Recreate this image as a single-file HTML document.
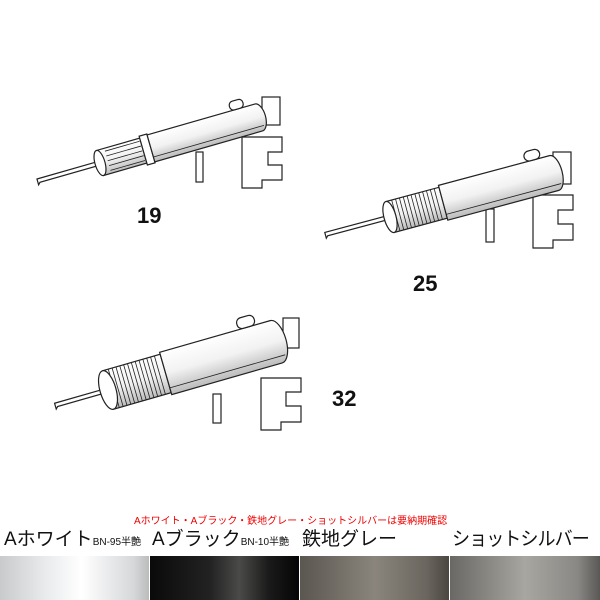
<!DOCTYPE html>
<html><head><meta charset="utf-8"><style>
html,body{margin:0;padding:0;background:#fff;}
body{width:600px;height:600px;position:relative;overflow:hidden;font-family:"Liberation Sans","Noto Sans CJK JP",sans-serif;}
.lbl{position:absolute;font-weight:bold;font-size:22px;color:#111;}
.t{position:absolute;color:#111;white-space:nowrap;}
.sw{position:absolute;top:556px;height:44px;}
</style></head><body>
<svg width="600" height="500" style="position:absolute;left:0;top:0" stroke="#222" stroke-width="1.2" fill="#fff">
<defs>
<linearGradient id="g" x1="0" y1="0" x2="0" y2="1">
<stop offset="0" stop-color="#fff"/><stop offset="0.5" stop-color="#f2f2f2"/><stop offset="1" stop-color="#bbb"/>
</linearGradient>
</defs>
<!-- Tool 19 -->
<rect x="262" y="97" width="18" height="28"/>
<polygon points="242,137 282,137 282,152 268,152 268,165 282,165 282,180 262,180 262,188 242,188"/>
<rect x="196" y="152" width="7" height="30"/>
<g transform="translate(100,163) rotate(-16)">
<polygon points="-65,-2 0,-2 0,2 -63,2 -65,4"/>
<rect x="0" y="-13" width="45" height="26" fill="url(#g)"/>
<ellipse cx="0" cy="0" rx="5" ry="13"/>
<g stroke-width="0.8"><line x1="8" y1="-10" x2="44" y2="-10"/><line x1="8" y1="-5" x2="44" y2="-5"/><line x1="8" y1="0" x2="44" y2="0"/><line x1="8" y1="5" x2="44" y2="5"/><line x1="8" y1="10" x2="44" y2="10"/></g>
<rect x="45" y="-15" width="8" height="30"/>
<path d="M53,-14 L165,-14 A7,14 0 0 1 165,14 L53,14 Z" fill="url(#g)"/>
<line x1="53" y1="9" x2="168" y2="9" stroke-width="0.8"/>
<rect x="140" y="-23" width="14" height="9" rx="4"/>
</g>
<!-- Tool 25 -->
<rect x="553" y="152" width="18" height="32"/>
<polygon points="533,195 573,195 573,210 558,210 558,224 573,224 573,240 553,240 553,248 533,248"/>
<rect x="486" y="209" width="8" height="33"/>
<g transform="translate(390,217) rotate(-15)">
<polygon points="-67,-2 0,-2 0,2 -65,2 -67,4"/>
<rect x="0" y="-16" width="55" height="32" fill="url(#g)"/>
<g stroke-width="0.8"><line x1="6" y1="-16" x2="6" y2="16"/><line x1="10" y1="-16" x2="10" y2="16"/><line x1="14" y1="-16" x2="14" y2="16"/><line x1="18" y1="-16" x2="18" y2="16"/><line x1="22" y1="-16" x2="22" y2="16"/><line x1="26" y1="-16" x2="26" y2="16"/><line x1="30" y1="-16" x2="30" y2="16"/><line x1="34" y1="-16" x2="34" y2="16"/><line x1="38" y1="-16" x2="38" y2="16"/><line x1="42" y1="-16" x2="42" y2="16"/><line x1="46" y1="-16" x2="46" y2="16"/><line x1="50" y1="-16" x2="50" y2="16"/></g>
<ellipse cx="0" cy="0" rx="6" ry="16"/>
<path d="M55,-18 L170,-18 A8,18 0 0 1 170,18 L55,18 Z" fill="url(#g)"/>
<line x1="55" y1="12" x2="174" y2="12" stroke-width="0.8"/>
<rect x="145" y="-28" width="16" height="10" rx="5"/>
</g>
<!-- Tool 32 -->
<rect x="283" y="318" width="16" height="30"/>
<polygon points="261,378 301,378 301,392 286,392 286,406 301,406 301,422 281,422 281,430 261,430"/>
<rect x="213" y="394" width="8" height="29"/>
<g transform="translate(108,390) rotate(-16)">
<polygon points="-55,-2 0,-2 0,2 -53,2 -55,4"/>
<rect x="0" y="-20" width="60" height="40" fill="url(#g)"/>
<g stroke-width="0.8"><line x1="6" y1="-20" x2="6" y2="20"/><line x1="10" y1="-20" x2="10" y2="20"/><line x1="14" y1="-20" x2="14" y2="20"/><line x1="18" y1="-20" x2="18" y2="20"/><line x1="22" y1="-20" x2="22" y2="20"/><line x1="26" y1="-20" x2="26" y2="20"/><line x1="30" y1="-20" x2="30" y2="20"/><line x1="34" y1="-20" x2="34" y2="20"/><line x1="38" y1="-20" x2="38" y2="20"/><line x1="42" y1="-20" x2="42" y2="20"/><line x1="46" y1="-20" x2="46" y2="20"/><line x1="50" y1="-20" x2="50" y2="20"/><line x1="54" y1="-20" x2="54" y2="20"/></g>
<ellipse cx="0" cy="0" rx="8" ry="20"/>
<path d="M60,-22 L175,-22 A10,22 0 0 1 175,22 L60,22 Z" fill="url(#g)"/>
<line x1="60" y1="15" x2="180" y2="15" stroke-width="0.8"/>
<rect x="142" y="-33" width="18" height="11" rx="5"/>
</g>
</svg>
<div class="lbl" style="left:137px;top:203px">19</div>
<div class="lbl" style="left:413px;top:271px">25</div>
<div class="lbl" style="left:332px;top:386px">32</div>
<div class="t" style="left:134px;top:512px;font-size:10px;color:#e00;">Aホワイト・Aブラック・鉄地グレー・ショットシルバーは要納期確認</div>
<div class="t" style="left:4px;top:524px;font-size:19px;">Aホワイト<span style="font-size:10px">BN-95半艶</span></div>
<div class="t" style="left:152px;top:524px;font-size:19px;">Aブラック<span style="font-size:10px">BN-10半艶</span></div>
<div class="t" style="left:302px;top:524px;font-size:19px;">鉄地グレー</div>
<div class="t" style="left:452px;top:524px;font-size:19px;transform:scaleX(0.95);transform-origin:left;letter-spacing:-1px;">ショットシルバー</div>
<div class="sw" style="left:0;width:149px;background:linear-gradient(90deg,#c8cacc,#e8eaec 30%,#fff 55%,#d5d7d9 90%,#bbb)"></div>
<div class="sw" style="left:150px;width:149px;background:linear-gradient(90deg,#0a0a0a,#222 40%,#4a4a48 60%,#1a1a1a 80%,#050505)"></div>
<div class="sw" style="left:300px;width:149px;background:linear-gradient(90deg,#5a5650,#8a857c 50%,#6a665f 85%,#4a4640)"></div>
<div class="sw" style="left:450px;width:150px;background:linear-gradient(90deg,#6a6864,#a8a6a0 50%,#8a8884 85%,#5a5854)"></div>
</body></html>
